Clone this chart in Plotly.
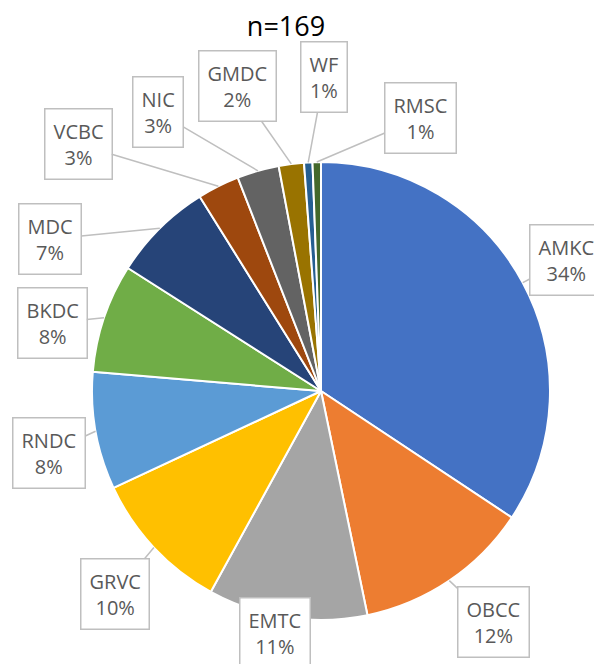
"""
    Pie of n=169 by site, Excel-style callout labels
"""

import math

import plotly.graph_objs as go

sites = ["AMKC", "OBCC", "EMTC", "GRVC", "RNDC", "BKDC",
         "MDC", "VCBC", "NIC", "GMDC", "WF", "RMSC"]
counts = [58, 21, 19, 17, 14, 13, 12, 5, 5, 3, 1, 1]
colors = ["#4472C4", "#ED7D31", "#A5A5A5", "#FFC000", "#5B9BD5", "#70AD47",
          "#264478", "#9E480E", "#636363", "#997300", "#255E91", "#43682B"]

# label box centres in page pixels (layout only)
box_pos = [(566, 260), (493, 622), (275, 633), (115, 594), (49, 453), (52, 323),
           (50, 239), (78, 144), (158, 112), (237, 86), (324, 77), (420, 118)]

PAGE = 8  # default body margin of the html page
W, H = 602 - PAGE, 664 - PAGE
cx, cy, R = 321 - PAGE, 391 - PAGE, 229

total = sum(counts)

fig = go.Figure(
    go.Pie(
        labels=sites, values=counts, sort=False, direction="clockwise", rotation=0,
        marker={"colors": colors, "line": {"color": "white", "width": 2}},
        textinfo="none", hoverinfo="label+percent", showlegend=False,
        domain={"x": [(cx - R) / W, (cx + R) / W],
                "y": [1 - (cy + R) / H, 1 - (cy - R) / H]},
    )
)

annotations = []
cum = 0
for name, v, (bx, by) in zip(sites, counts, box_pos):
    bx, by = bx - PAGE, by - PAGE
    mid = (cum + v / 2) / total * 2 * math.pi
    cum += v
    tx = cx + R * math.sin(mid)
    ty = cy - R * math.cos(mid)
    ann = dict(
        text=f"{name}<br>{round(100 * v / total)}%",
        xref="paper", yref="paper",
        font={"family": "Open Sans", "size": 20, "color": "#595959"},
        bgcolor="white", bordercolor="#BFBFBF", borderwidth=1.5, borderpad=8,
    )
    if abs(tx - bx) < 38 and abs(ty - by) < 34:
        # box sits on top of its slice: no leader line
        ann.update(x=bx / W, y=1 - by / H, showarrow=False,
                   xanchor="center", yanchor="middle")
    else:
        ann.update(x=tx / W, y=1 - ty / H, ax=bx - tx, ay=by - ty,
                   axref="pixel", ayref="pixel", showarrow=True, arrowhead=0,
                   arrowwidth=1.5, arrowcolor="#BFBFBF", standoff=0)
    annotations.append(ann)

layout = go.Layout(
    width=W, height=H,
    margin={"l": 0, "r": 0, "t": 0, "b": 0},
    paper_bgcolor="white",
    title={"text": "n=169", "x": (286 - PAGE) / W, "xanchor": "center",
           "y": 1 - (27 - PAGE) / H, "yanchor": "middle",
           "font": {"family": "Open Sans", "size": 27, "color": "black"}},
    annotations=annotations,
)
fig.update_layout(layout)
fig.write_html("out.html")
